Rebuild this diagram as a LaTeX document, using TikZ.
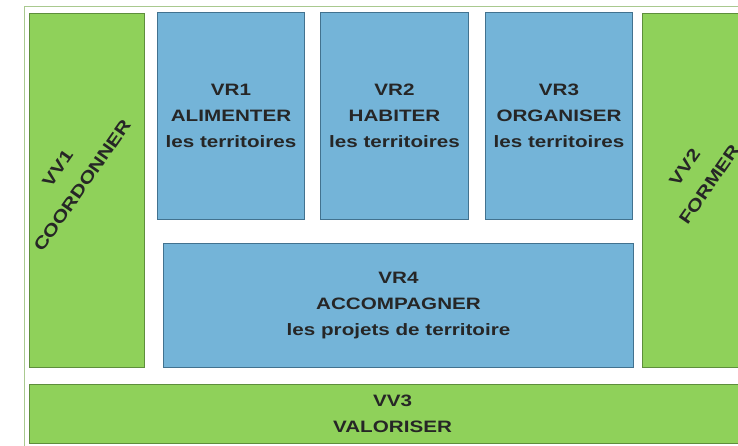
\documentclass[tikz,border=0pt]{standalone}
\usepackage{fontspec}
\setmainfont{Liberation Sans}[FakeStretch=1.25]
\definecolor{vvfill}{HTML}{8FD15A}
\definecolor{vvline}{HTML}{5E8E3C}
\definecolor{vrfill}{HTML}{74B4D8}
\definecolor{vrline}{HTML}{42728F}
\definecolor{cadreline}{HTML}{A9C98F}
\tikzstyle{vert}=[draw=vvline, fill=vvfill, line width=1pt, inner sep=0pt, anchor=north west]
\tikzstyle{bleu}=[vert, draw=vrline, fill=vrfill]
\tikzstyle{etiq}=[font=\bfseries\fontsize{16.5}{26}\selectfont, align=center, text=black!85]
\tikzstyle{biais}=[etiq, font=\bfseries\fontsize{17}{30}\selectfont, rotate=55]

\begin{document}
\begin{tikzpicture}[x=1pt,y=-1pt]
	\useasboundingbox (0,0) rectangle (738,446);
	\clip (0,0) rectangle (738,446);
	% outer frame
	\draw [cadreline, line width=1pt] (24,460) -- (24,7) -- (760,7);

	% green columns and band
	\node (vv1) [vert, minimum width=115, minimum height=354] at (29,13) {};
	\node (vv2) [vert, minimum width=116, minimum height=354] at (642,13) {};
	\node (vv3) [vert, etiq, minimum width=726, minimum height=59] at (29,384) {VV3\\VALORISER};

	% blue boxes
	\node (vr1) [bleu, etiq, minimum width=147, minimum height=207] at (157,12) {VR1\\ALIMENTER\\les territoires};
	\node (vr2) [bleu, etiq, minimum width=148, minimum height=207] at (320,12) {VR2\\HABITER\\les territoires};
	\node (vr3) [bleu, etiq, minimum width=147, minimum height=207] at (485,12) {VR3\\ORGANISER\\les territoires};
	\node (vr4) [bleu, etiq, minimum width=470, minimum height=124] at (163,243) {VR4\\ACCOMPAGNER\\les projets de territoire};

	% slanted labels
	\node (vv1_txt) [biais] at (70,177) {VV1\\COORDONNER};
	\node (vv2_txt) [biais] at (697,176) {VV2\\FORMER};
\end{tikzpicture}
\end{document}
